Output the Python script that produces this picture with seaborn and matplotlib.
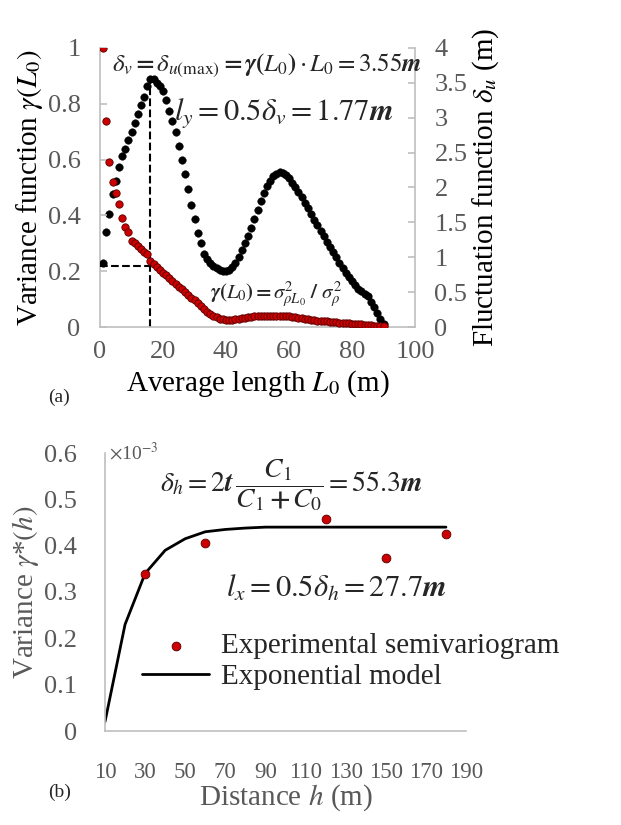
import numpy as np
import pandas as pd
import matplotlib
matplotlib.use('Agg')
import matplotlib.pyplot as plt
import seaborn as sns

sns.set_style('white')
plt.rcParams['font.family'] = ['Liberation Serif', 'DejaVu Serif']
plt.rcParams['mathtext.fontset'] = 'stix'

# panel (a) data
L0 = list(range(1, 91))
gamma = [1, 0.74, 0.59, 0.52, 0.48, 0.44, 0.39, 0.36, 0.34, 0.31, 0.30, 0.29, 0.28, 0.27, 0.26,
         0.235, 0.225, 0.215, 0.205, 0.195, 0.185, 0.175, 0.165, 0.155, 0.145, 0.135, 0.125, 0.115,
         0.105, 0.095, 0.085, 0.075, 0.065, 0.055, 0.048, 0.04, 0.035, 0.03, 0.027, 0.025, 0.025,
         0.025, 0.027, 0.03, 0.032, 0.034, 0.036, 0.037, 0.038, 0.039, 0.04, 0.04, 0.041, 0.041,
         0.041, 0.041, 0.04, 0.04, 0.039, 0.038, 0.036, 0.035, 0.034, 0.032, 0.03, 0.028, 0.026,
         0.025, 0.023, 0.022, 0.021, 0.02, 0.019, 0.018, 0.017, 0.016, 0.015, 0.014, 0.013, 0.012,
         0.011, 0.01, 0.009, 0.008, 0.007, 0.006, 0.005, 0.004, 0.003, 0.002]
delta_u = [0.92, 1.36, 1.62, 1.9, 2.1, 2.3, 2.45, 2.55, 2.68, 2.8, 2.92, 3.05, 3.18, 3.3, 3.45,
           3.55, 3.55, 3.5, 3.45, 3.38, 3.25, 3.1, 2.95, 2.8, 2.6, 2.4, 2.2, 1.98, 1.75, 1.55,
           1.35, 1.2, 1.05, 0.98, 0.92, 0.88, 0.84, 0.82, 0.8, 0.8, 0.82, 0.86, 0.92, 1.0, 1.1,
           1.2, 1.3, 1.42, 1.55, 1.68, 1.8, 1.92, 2.02, 2.1, 2.16, 2.2, 2.22, 2.21, 2.18, 2.13,
           2.07, 2.0, 1.93, 1.86, 1.78, 1.7, 1.62, 1.54, 1.46, 1.38, 1.3, 1.22, 1.15, 1.07, 1.0,
           0.92, 0.85, 0.78, 0.72, 0.66, 0.6, 0.55, 0.52, 0.48, 0.44, 0.36, 0.28, 0.2, 0.12, 0.05]

# panel (b) data
h_model = [10, 20, 30, 40, 50, 60, 70, 80, 90, 100, 110, 120, 130, 140, 150, 160, 170, 180]
g_model = [0.02, 0.23, 0.34, 0.39, 0.415, 0.43, 0.435, 0.438, 0.44, 0.44, 0.44, 0.44, 0.44,
           0.44, 0.44, 0.44, 0.44, 0.44]
h_exp = [30, 60, 120, 150, 180]
g_exp = [0.338, 0.405, 0.458, 0.373, 0.425]

gray = '#595959'
spine = '#bfbfbf'
W, H = 621, 825
fig = plt.figure(figsize=(6.21, 8.25), dpi=100)


def style(ax, sides):
    for s in ax.spines:
        ax.spines[s].set_visible(s in sides)
        ax.spines[s].set_color(spine)
        ax.spines[s].set_linewidth(1.2)
    ax.tick_params(colors=gray, labelsize=19, length=5, color=spine, width=1.2)


# ---- (a)
ax1 = fig.add_axes([100 / W, 1 - 327 / H, 315 / W, 279 / H])
ax2 = ax1.twinx()
sns.scatterplot(x=L0, y=delta_u, ax=ax2, color='black', s=30, edgecolor='black', linewidth=0.3, zorder=3)
sns.scatterplot(x=L0, y=gamma, ax=ax1, color='#cc0000', s=28, edgecolor='#550000', linewidth=0.6, zorder=3)
ax1.set_xlim(0, 100)
ax1.set_ylim(0, 1)
ax2.set_ylim(0, 4)
ax1.set_xticks(range(0, 101, 20))
ax1.set_yticks([0, 0.2, 0.4, 0.6, 0.8, 1])
ax1.set_yticklabels(['0', '0.2', '0.4', '0.6', '0.8', '1'])
ax2.set_yticks([0, 0.5, 1, 1.5, 2, 2.5, 3, 3.5, 4])
ax2.set_yticklabels(['0', '0.5', '1', '1.5', '2', '2.5', '3', '3.5', '4'])
style(ax1, ['bottom'])
style(ax2, ['left', 'right'])
ax2.tick_params(axis='y', direction='in', pad=14)
ax1.tick_params(axis='y', direction='in', pad=14)
ax1.tick_params(axis='x', length=0, pad=10)
ax1.set_zorder(ax2.get_zorder() + 1)
ax1.patch.set_visible(False)
ax1.plot([16, 16], [0, 0.89], ls='--', color='black', lw=1.5)
ax1.plot([0, 16], [0.22, 0.22], ls='--', color='black', lw=1.5)
ax1.set_xlabel('Average length $L_0$ (m)', fontsize=21, color='black', labelpad=4)
ax1.set_ylabel(r'Variance function $\gamma(L_0)$', fontsize=21, color='black', labelpad=2)
ax2.set_ylabel(r'Fluctuation function $\delta_u$ (m)', fontsize=21, color='black', labelpad=2)
ax1.text(53, 0.92, r'$\boldsymbol{\delta_v=\delta_{u(\max)}=\gamma(L_0)}\cdot\boldsymbol{L_0}=3.55\boldsymbol{m}$',
         fontsize=18, ha='center')
ax1.text(93, 0.74, r'$\boldsymbol{l_y}=0.5\boldsymbol{\delta_v}=1.77\boldsymbol{m}$', fontsize=22, ha='right')
ax1.text(77, 0.1, r'$\boldsymbol{\gamma(L_0)=\sigma^2_{\rho L_0}\ /\ \sigma^2_\rho}$', fontsize=15, ha='right')
fig.text(48 / W, 1 - 402 / H, '(a)', fontsize=14)

# ---- (b)
ax3 = fig.add_axes([105 / W, 1 - 731 / H, 361 / W, 278 / H])
sns.lineplot(x=h_model, y=g_model, ax=ax3, color='black', lw=2, label='Exponential model')
sns.scatterplot(x=h_exp, y=g_exp, ax=ax3, color='#cc0000', s=40, edgecolor='#550000', linewidth=0.6,
                zorder=3, label='Experimental semivariogram')
ax3.set_xlim(10, 190)
ax3.set_ylim(0, 0.6)
ax3.set_xticks(range(10, 191, 20))
ax3.set_yticks([0, 0.1, 0.2, 0.3, 0.4, 0.5, 0.6])
ax3.set_yticklabels(['0', '0.1', '0.2', '0.3', '0.4', '0.5', '0.6'])
style(ax3, ['left', 'bottom'])
ax3.tick_params(axis='x', direction='in', pad=22, labelsize=16.5)
ax3.tick_params(axis='y', length=0, pad=20)
ax3.set_xlabel('Distance $h$ (m)', fontsize=21, color=gray, labelpad=0)
ax3.set_ylabel(r'Variance $\gamma$*$(h)$', fontsize=21, color=gray, labelpad=2)
ax3.text(12, 0.585, r'$\times$10$^{-3}$', fontsize=14, color=gray)
hnd, lab = ax3.get_legend_handles_labels()
ax3.legend(hnd[::-1], lab[::-1], loc='center left', bbox_to_anchor=(0.03, 0.25), frameon=False,
           fontsize=21, handlelength=2.3, labelspacing=0.15, handletextpad=0.4)
ax3.text(103, 0.53, r'$\boldsymbol{\delta_h}=2\boldsymbol{t}\,\dfrac{\boldsymbol{C_1}}{\boldsymbol{C_1+C_0}}=55.3\boldsymbol{m}$',
         fontsize=20, ha='center', va='center')
ax3.text(180, 0.29, r'$\boldsymbol{l_x}=0.5\boldsymbol{\delta_h}=27.7\boldsymbol{m}$', fontsize=22, ha='right')
fig.text(48 / W, 1 - 797 / H, '(b)', fontsize=14)

fig.savefig('out.png', dpi=100)
